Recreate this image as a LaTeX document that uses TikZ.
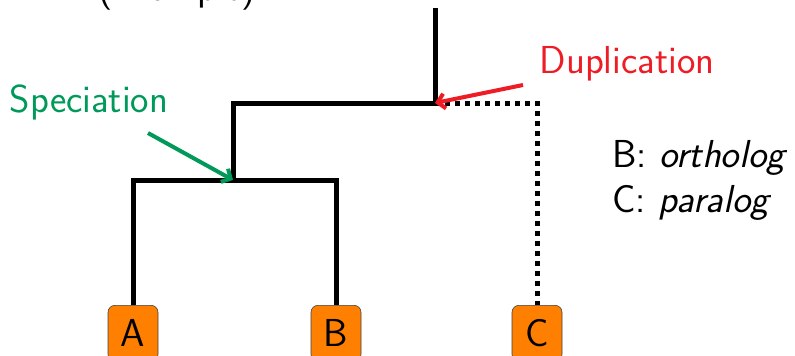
\documentclass[tikz,border=0pt]{standalone}
\usepackage{fontspec}
\definecolor{specgreen}{HTML}{00995A}
\definecolor{dupred}{HTML}{EE1C25}
\definecolor{leaforange}{HTML}{FF8000}
\usetikzlibrary{arrows.meta, positioning}

\begin{document}
\begin{tikzpicture}[x=1pt, y=-1pt,
    font=\sffamily\fontsize{39}{46}\selectfont,
    branch/.style={line width=5pt},
    lostbranch/.style={line width=5pt, dash pattern=on 5pt off 5pt},
    leaf/.style={draw=black!75, line width=0.6pt, fill=leaforange,
                 rounded corners=7pt, minimum width=50pt, minimum height=56pt,
                 inner sep=0pt, anchor=north},
    eventlabel/.style={inner sep=0pt},
    eventarrow/.style={-{Straight Barb[length=7pt, width=15pt]}, line width=4pt}]
  \useasboundingbox (0,0) rectangle (795,356);

  % Title (cut at the top)
  \node[anchor=base] (title) at (177,1) {(Example)};

  % Internal nodes of the tree
  \coordinate (root) at (435,8);
  \coordinate (dup)  at (435,103);
  \coordinate (spec) at (233,180);

  % Leaves
  \node[leaf] (A) at (133,305) {A};
  \node[leaf] (B) at (336,305) {B};
  \node[leaf] (C) at (537,305) {C};

  % Branches
  \draw[branch] (root) -- (dup) -| (spec);
  \draw[branch] (A) |- (spec) -| (B);
  \draw[lostbranch] (dup) -| (C);

  % Event labels
  \node[eventlabel, text=specgreen] (speclabel) at (89,102) {Speciation};
  \node[eventlabel, text=dupred] (duplabel) at (627,64) {Duplication};
  \coordinate (spectail) at (148,133);
  \coordinate (duptail)  at (523,85);
  \draw[eventarrow, specgreen] (spectail) -- (spec);
  \draw[eventarrow, dupred] (duptail) -- (dup);

  % Legend
  \node[eventlabel, anchor=base west] (ortho) at (612,167) {B: \textit{ortholog}};
  \node[eventlabel, anchor=base west] (para) at ([yshift=-45pt]ortho.base west) {C: \textit{paralog}};
\end{tikzpicture}
\end{document}
